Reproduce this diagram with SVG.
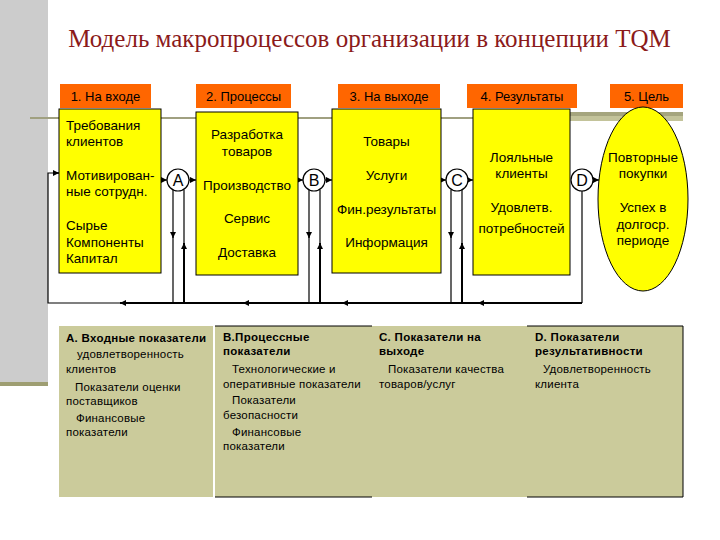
<svg xmlns="http://www.w3.org/2000/svg" width="720" height="540" viewBox="0 0 720 540">
<style>
.t{font-family:"Liberation Sans",Arial,sans-serif;font-size:13.5px;fill:#000}
.c{text-anchor:middle}
.h{font-family:"Liberation Sans",Arial,sans-serif;font-size:13px;fill:#000;text-anchor:middle}
.p{font-family:"Liberation Sans",Arial,sans-serif;font-size:11.5px;letter-spacing:0.2px;fill:#000}
.b{font-weight:bold;font-size:11.5px;letter-spacing:0.3px}
.box{fill:#FFFF00;stroke:#000;stroke-width:1}
.hdr{fill:#FF6600}
.pan{fill:#CBCB9B}
.cir{fill:#fff;stroke:#000;stroke-width:1.2}
.ln{fill:none;stroke:#000;stroke-width:1.2}
.lk{fill:none;stroke:#000;stroke-width:2}
.lt{font-family:"Liberation Sans",Arial,sans-serif;font-size:16px;fill:#000;text-anchor:middle}
</style>
<defs>
<marker id="ar" viewBox="0 0 10 10" refX="10" refY="5" markerWidth="6" markerHeight="6" markerUnits="userSpaceOnUse" orient="auto">
<path d="M0,0 L10,5 L0,10 z" fill="#000"/>
</marker>
</defs>
<rect width="720" height="540" fill="#fff"/>
<rect x="0" y="0" width="48" height="383" fill="#CCCCCC"/>
<rect x="0" y="382" width="48" height="4" fill="#9E9E72"/>
<line x1="30" y1="118" x2="683" y2="118" stroke="#A0A080" stroke-width="2"/>
<rect x="570" y="112" width="113" height="9" fill="#C3C39A"/>
<rect x="570" y="112" width="113" height="4" fill="#A5A57E"/>
<text x="369.5" y="47" font-family="Liberation Serif,'Times New Roman',serif" font-size="25" fill="#8B1A1A" text-anchor="middle">Модель макропроцессов организации в концепции TQM</text>

<g id="headers">
<rect class="hdr" x="60" y="84" width="91" height="24"/><text class="h" x="105.5" y="101">1. На входе</text>
<rect class="hdr" x="196" y="84" width="95" height="24"/><text class="h" x="243.5" y="101">2. Процессы</text>
<rect class="hdr" x="338" y="84" width="102" height="24"/><text class="h" x="389" y="101">3. На выходе</text>
<rect class="hdr" x="467" y="84" width="110" height="24"/><text class="h" x="522" y="101">4. Результаты</text>
<rect class="hdr" x="610" y="84" width="73" height="24"/><text class="h" x="646.5" y="101">5. Цель</text>
</g>

<g id="connectors">
<path class="ln" d="M59 173 L48 173 L48 303 L120 303"/>
<path class="ln" d="M54 173 L59 173" marker-end="url(#ar)"/>
<path class="lk" d="M243 303 L120 303" marker-end="url(#ar)"/>
<path class="lk" d="M342 303 L243 303" marker-end="url(#ar)"/>
<path class="lk" d="M478 303 L342 303" marker-end="url(#ar)"/>
<path class="lk" d="M582 303 L478 303" marker-end="url(#ar)"/>
<path class="ln" d="M582 191 L582 303"/>
<path class="ln" d="M161 180 L167 180" marker-end="url(#ar)"/>
<path class="ln" d="M189 180 L196 180" marker-end="url(#ar)"/>
<path class="ln" d="M173 190 L173 238" marker-end="url(#ar)"/><path class="ln" d="M173 236 L173 303"/>
<path class="ln" d="M184 190 L184 246"/><path class="lk" d="M184 303 L184 243" marker-end="url(#ar)"/>
<path class="ln" d="M298 180 L303 180" marker-end="url(#ar)"/>
<path class="ln" d="M325 180 L332 180" marker-end="url(#ar)"/>
<path class="ln" d="M309 190 L309 238" marker-end="url(#ar)"/><path class="ln" d="M309 236 L309 303"/>
<path class="ln" d="M320 190 L320 246"/><path class="lk" d="M320 303 L320 243" marker-end="url(#ar)"/>
<path class="ln" d="M441 180 L446 180" marker-end="url(#ar)"/>
<path class="ln" d="M468 180 L473 180" marker-end="url(#ar)"/>
<path class="ln" d="M451 190 L451 238" marker-end="url(#ar)"/><path class="ln" d="M451 236 L451 303"/>
<path class="ln" d="M462 190 L462 246"/><path class="lk" d="M462 303 L462 243" marker-end="url(#ar)"/>
<path class="ln" d="M593 180 L599 180" marker-end="url(#ar)"/>
</g>

<g id="box1">
<rect class="box" x="59" y="109" width="102" height="164"/>
<text class="t" x="66" y="130">Требования</text>
<text class="t" x="66" y="146">клиентов</text>
<text class="t" x="66" y="180">Мотивирован-</text>
<text class="t" x="66" y="196">ные сотрудн.</text>
<text class="t" x="66" y="230">Сырье</text>
<text class="t" x="66" y="247">Компоненты</text>
<text class="t" x="66" y="263">Капитал</text>
</g>
<g id="box2">
<rect class="box" x="196" y="112" width="102" height="163"/>
<text class="t c" x="247" y="139">Разработка</text>
<text class="t c" x="247" y="156">товаров</text>
<text class="t c" x="247" y="190">Производство</text>
<text class="t c" x="247" y="223">Сервис</text>
<text class="t c" x="247" y="257">Доставка</text>
</g>
<g id="box3">
<rect class="box" x="332" y="109" width="109" height="164"/>
<text class="t c" x="386.5" y="146">Товары</text>
<text class="t c" x="386.5" y="180">Услуги</text>
<text class="t c" x="386.5" y="214">Фин.результаты</text>
<text class="t c" x="386.5" y="247">Информация</text>
</g>
<g id="box4">
<rect class="box" x="473" y="109" width="97" height="166"/>
<text class="t c" x="521.5" y="162">Лояльные</text>
<text class="t c" x="521.5" y="178">клиенты</text>
<text class="t c" x="521.5" y="212">Удовлетв.</text>
<text class="t c" x="521.5" y="233">потребностей</text>
</g>
<g id="goal">
<ellipse cx="643" cy="199" rx="45" ry="92" fill="#FFFF00" stroke="#000" stroke-width="1"/>
<text class="t c" x="643" y="162">Повторные</text>
<text class="t c" x="643" y="178">покупки</text>
<text class="t c" x="643" y="212">Успех в</text>
<text class="t c" x="643" y="229">долгоср.</text>
<text class="t c" x="643" y="245">периоде</text>
</g>
<g id="circleA"><circle class="cir" cx="178" cy="180" r="11"/><text class="lt" x="178" y="186">A</text></g>
<g id="circleB"><circle class="cir" cx="314" cy="180" r="11"/><text class="lt" x="314" y="186">B</text></g>
<g id="circleC"><circle class="cir" cx="457" cy="180" r="11"/><text class="lt" x="457" y="186">C</text></g>
<g id="circleD"><circle class="cir" cx="582" cy="180" r="11"/><text class="lt" x="582" y="186">D</text></g>

<g id="panelA">
<rect class="pan" x="59" y="326" width="154" height="171"/>
<text class="p b" x="66" y="342">А. Входные показатели</text>
<text class="p" x="77" y="358">удовлетворенность</text>
<text class="p" x="66" y="373">клиентов</text>
<text class="p" x="75" y="391">Показатели оценки</text>
<text class="p" x="66" y="405">поставщиков</text>
<text class="p" x="76" y="422">Финансовые</text>
<text class="p" x="66" y="436">показатели</text>
</g>
<g id="panelB">
<rect class="pan" x="215" y="326" width="157" height="171"/>
<line x1="215" y1="326" x2="372" y2="326" stroke="#000" stroke-width="1"/>
<line x1="215" y1="497" x2="372" y2="497" stroke="#000" stroke-width="1"/>
<text class="p b" x="223" y="341">В.Процессные</text>
<text class="p b" x="223" y="355">показатели</text>
<text class="p" x="232" y="373">Технологические и</text>
<text class="p" x="223" y="388">оперативные показатели</text>
<text class="p" x="232" y="404">Показатели</text>
<text class="p" x="223" y="419">безопасности</text>
<text class="p" x="232" y="436">Финансовые</text>
<text class="p" x="223" y="450">показатели</text>
</g>
<g id="panelC">
<rect class="pan" x="372" y="326" width="155" height="171"/>
<text class="p b" x="379" y="341">С. Показатели на</text>
<text class="p b" x="379" y="355">выходе</text>
<text class="p" x="388" y="373">Показатели качества</text>
<text class="p" x="379" y="388">товаров/услуг</text>
</g>
<g id="panelD">
<rect class="pan" x="527" y="326" width="156" height="171"/>
<path d="M527 326 L683 326 L683 497 L527 497" fill="none" stroke="#000" stroke-width="1"/>
<text class="p b" x="535" y="341">D. Показатели</text>
<text class="p b" x="535" y="355">результативности</text>
<text class="p" x="543" y="373">Удовлетворенность</text>
<text class="p" x="535" y="388">клиента</text>
</g>
</svg>
